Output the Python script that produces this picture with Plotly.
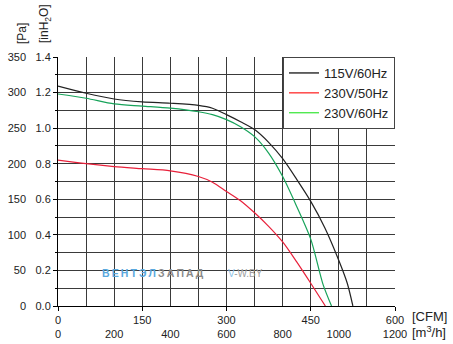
import plotly.graph_objects as go

# ---- data ----
cfm_115_60 = [0, 50, 100, 150, 200, 250, 275, 300, 325, 350, 375, 400, 425, 450, 475, 500, 515, 525]
pa_115_60 = [309, 299, 291, 287, 285, 282, 278, 269, 259, 248, 230, 207, 178, 147, 110, 64, 32, 0]

cfm_230_60 = [0, 50, 100, 150, 200, 250, 275, 300, 325, 350, 375, 400, 425, 450, 472, 487]
pa_230_60 = [298, 292, 284, 281, 278, 273, 269, 262, 252, 238, 215, 182, 140, 94, 30, 0]

cfm_230_50 = [0, 50, 100, 150, 200, 250, 275, 300, 325, 350, 375, 400, 425, 450, 476]
pa_230_50 = [205, 200, 196, 193, 190, 182, 174, 161, 148, 131, 112, 90, 62, 32, 0]

series_names = ["115V/60Hz", "230V/50Hz", "230V/60Hz"]
curve_colors = ["#222222", "#e8203a", "#17a35a"]
legend_colors = ["#000000", "#ff1a1a", "#33e633"]

# ---- geometry ----
W, H = 453, 344
ML, MR, MT, MB = 10, 58, 57, 5
PW = W - ML - MR
PH = H - MT - MB
x_dom0 = (58 - ML) / PW
y_dom0 = (H - MB - 306) / PH


def px(xp):
    return (xp - ML) / PW


def py(yp):
    return (H - MB - yp) / PH


font = "Liberation Sans, Arial, sans-serif"
tick_col = "#222222"
grid_col = "#3a3a3a"

fig = go.Figure()

curves = [(cfm_115_60, pa_115_60), (cfm_230_50, pa_230_50), (cfm_230_60, pa_230_60)]
for (xs, ys), c in zip(curves, curve_colors):
    fig.add_trace(go.Scatter(x=xs, y=ys, mode="lines", line=dict(color=c, width=1.2, shape="spline", smoothing=0.8),
                             showlegend=False, xaxis="x", yaxis="y", hoverinfo="skip"))

legend_axes = [("x", "y2"), ("x", "y2"), ("x2", "y")]
for name, c, (xa, ya) in zip(series_names, legend_colors, legend_axes):
    fig.add_trace(go.Scatter(x=[None], y=[None], mode="lines", name=name, line=dict(color=c, width=1.2),
                             xaxis=xa, yaxis=ya))

fig.update_layout(
    width=W, height=H,
    margin=dict(l=ML, r=MR, t=MT, b=MB, autoexpand=False),
    paper_bgcolor="white", plot_bgcolor="white",
    font=dict(family=font, size=11, color=tick_col),
    xaxis=dict(range=[0, 600], dtick=150, domain=[x_dom0, 1], anchor="y", automargin=False,
               showline=True, linecolor="black", linewidth=1, mirror=False,
               ticks="outside", ticklen=4, tickcolor="black",
               showgrid=True, gridcolor=grid_col, gridwidth=1,
               minor=dict(dtick=50, showgrid=True, gridcolor=grid_col, gridwidth=1, ticks=""),
               zeroline=False, tickfont=dict(size=11, color=tick_col, family=font)),
    xaxis2=dict(range=[0, 1200], dtick=200, overlaying="x", anchor="free", side="bottom", automargin=False,
                position=py(326),
                showline=False, ticks="", showgrid=False, zeroline=False,
                tickfont=dict(size=11, color=tick_col, family=font)),
    yaxis=dict(range=[0, 350], dtick=50, domain=[y_dom0, 1], anchor="free", side="left", automargin=False,
               position=px(26),
               showline=False, ticks="",
               showgrid=True, gridcolor=grid_col, gridwidth=1,
               minor=dict(dtick=25, showgrid=True, gridcolor=grid_col, gridwidth=1, ticks=""),
               zeroline=False, tickfont=dict(size=11, color=tick_col, family=font)),
    yaxis2=dict(range=[0, 1.4], dtick=0.2, tickformat=".1f", overlaying="y", anchor="x", side="left",
                automargin=False,
                showline=True, linecolor="black", linewidth=1,
                ticks="outside", ticklen=4, tickcolor="black",
                minor=dict(dtick=0.1, ticks="outside", ticklen=2, tickcolor="black"),
                showgrid=False, zeroline=False,
                tickfont=dict(size=11, color=tick_col, family=font)),
    legend=dict(x=1, y=1, xref="paper", yref="paper", xanchor="right", yanchor="top",
                bgcolor="white", bordercolor="#444444", borderwidth=1,
                font=dict(size=13, color=tick_col, family=font),
                tracegroupgap=0, itemwidth=30),
)

ann = [
    dict(text="[Pa]", x=22, y=34, textangle=-90, size=12),
    dict(text="[inH<sub>2</sub>O]", x=45, y=24, textangle=-90, size=12),
    dict(text="[CFM]", x=429, y=316, textangle=0, size=13),
    dict(text="[m<sup>3</sup>/h]", x=429, y=332, textangle=0, size=13),
]
for a in ann:
    fig.add_annotation(text=a["text"], x=px(a["x"]), y=py(a["y"]), xref="paper", yref="paper",
                       xanchor="center", yanchor="middle", showarrow=False, textangle=a["textangle"],
                       font=dict(size=a["size"], color=tick_col, family=font))

# watermark
ts = "\u2009"
blue_part = ts.join("ВЕНТЭЛ")
grey_part = ts.join("ЗАПАД")
fig.add_annotation(text=f"<b><span style='color:#5aa8de'>{blue_part}</span>{ts}<span style='color:#8a8a8a'>{grey_part}</span></b>",
                   x=px(100), y=py(281), xref="paper", yref="paper", xanchor="left", showarrow=False,
                   font=dict(size=10.5, family=font))
fig.add_annotation(text="<span style='color:#8ec4ea'>V</span><span style='color:#a0a0a0'>-W.BY</span>",
                   x=px(226), y=py(281), xref="paper", yref="paper", xanchor="left", showarrow=False,
                   font=dict(size=10, family=font))

fig.write_html("out.html")
